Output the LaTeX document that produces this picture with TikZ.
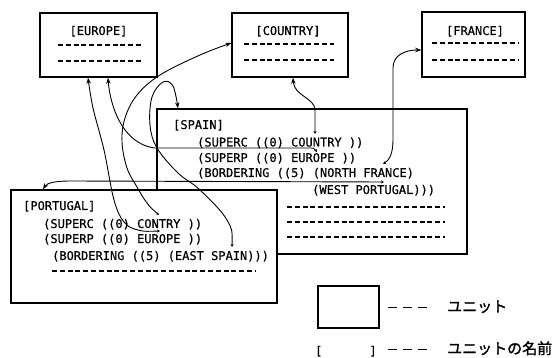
\documentclass[tikz,border=0pt]{standalone}
\usepackage{fontspec}
\setmonofont[FakeBold=0.6]{DejaVu Sans Mono}
\newfontfamily\jpfont[FakeBold=1.5]{Noto Sans CJK JP}
\usetikzlibrary{arrows.meta}
\begin{document}
\begin{tikzpicture}[x=1pt,y=-1pt,
  unit/.style={draw,line width=1.5pt,fill=white,inner sep=0pt},
  slotline/.style={line width=1.1pt,dash pattern=on 5pt off 2.8pt},
  lbl/.style={font=\ttfamily\fontsize{12}{14}\selectfont,inner sep=0pt,anchor=base west},
  title/.style={font=\ttfamily\fontsize{12}{14}\selectfont,inner sep=0pt,anchor=base},
  link/.style={line width=0.9pt,{Stealth[length=3pt,width=3pt]}-{Stealth[length=6pt,width=4.5pt]}},
  jp/.style={font=\jpfont\fontsize{15}{17}\selectfont,inner sep=0pt,anchor=base west},
  legdash/.style={line width=1pt,dash pattern=on 9pt off 6pt}]
\useasboundingbox (0,0) rectangle (555,358);

% upper units
\node[unit,minimum width=117pt,minimum height=64pt] (europe) at (98.5,45) {};
\node[title] (europet) at (98.5,35) {[EUROPE]};
\draw[slotline] (58,45) -- (143,45);
\draw[slotline] (58,61) -- (143,61);

\node[unit,minimum width=116pt,minimum height=64pt] (country) at (290,45) {};
\node[title] (countryt) at (288,35) {[COUNTRY]};
\draw[slotline] (244,44) -- (334,44);
\draw[slotline] (244,60) -- (334,60);

\node[unit,minimum width=103pt,minimum height=65pt] (france) at (473.5,44.5) {};
\node[title] (francet) at (475,35) {[FRANCE]};
\draw[slotline] (432,43) -- (518,43);
\draw[slotline] (432,60) -- (518,60);

% SPAIN
\node[unit,minimum width=310pt,minimum height=145pt] (spain) at (312,181.5) {};
\node[lbl] (spaint) at (173,129) {[SPAIN]};
\node[lbl] (sp1) at (197,146.5) {(SUPERC ((0) COUNTRY ))};
\node[lbl] (sp2) at (197,162) {(SUPERP ((0) EUROPE  ))};
\node[lbl] (sp3) at (197,177) {(BORDERING ((5) (NORTH FRANCE)};
\node[lbl] (sp4) at (312,194) {(WEST PORTUGAL)))};
\draw[slotline] (287,207) -- (445,207);
\draw[slotline] (287,222) -- (445,222);
\draw[slotline] (287,237) -- (445,237);

% PORTUGAL
\node[unit,minimum width=266pt,minimum height=113pt] (portugal) at (144,246.5) {};
\node[lbl] (portugalt) at (23,210) {[PORTUGAL]};
\node[lbl] (pt1) at (43,228) {(SUPERC ((0) CONTRY ))};
\node[lbl] (pt2) at (43,243) {(SUPERP ((0) EUROPE ))};
\node[lbl] (pt3) at (52,260) {(BORDERING ((5) (EAST SPAIN)))};
\draw[slotline] (52,271) -- (255,271);

% slot ends
\coordinate (spC) at (315,134);
\coordinate (spE) at (317,152);
\coordinate (spF) at (383,164);
\coordinate (spW) at (384,182);
\coordinate (ptC) at (159,215);
\coordinate (ptE) at (160,231);
\coordinate (ptS) at (232,247);

% unit ends
\coordinate (euA) at ([xshift=-10.5pt]europe.south);
\coordinate (euB) at ([xshift=9.5pt]europe.south);
\coordinate (coL) at ([yshift=2pt]country.west);
\coordinate (coB) at ([xshift=3pt]country.south);
\coordinate (frL) at ([yshift=-5.5pt]france.west);
\coordinate (spT) at ([xshift=-134pt]spain.north);
\coordinate (ptT) at ([xshift=-101pt]portugal.north);

% connectors
\draw[link] plot[smooth,tension=0.6] coordinates {(ptE) (138,230) (124,222) (114,200) (104,150) (93,108) (euA)};
\draw[link] (spE) .. controls (314,148) .. (308,148) -- (155,148) .. controls (122,144) and (110,105) .. (euB);
\draw[link] plot[smooth,tension=0.6] coordinates {(ptC) (147,203) (137,187) (127,168) (122,142) (125,118) (137,95) (160,75) (200,55) (coL)};
\draw[link] (spC) -- (315,110) .. controls (315,98) and (294,96) .. (coB);
\draw[link] (spF) .. controls (390,160) and (393,152) .. (393,140) -- (393,68) .. controls (393,55) and (405,50) .. (frL);
\draw[link] plot[smooth,tension=0.6] coordinates {(ptS) (227,220) (200,190) (178,173) (157,148) (150,125) (152,97) (163,82) (173,86) (spT)};
\draw[link] (spW) -- (70,181) .. controls (55,181) and (47,183) .. (ptT);

% legend
\node[unit,minimum width=61pt,minimum height=42pt] (legbox) at (348.5,307) {};
\draw[legdash] (388,308) -- (428,308);
\node[jp] (legunit) at (447,312) {ユニット};
\node[lbl] (legbr) at (315,355) {[\hspace*{47pt}]};
\draw[legdash] (388,350) -- (428,350);
\node[jp] (legname) at (447,354) {ユニットの名前};
\end{tikzpicture}
\end{document}
